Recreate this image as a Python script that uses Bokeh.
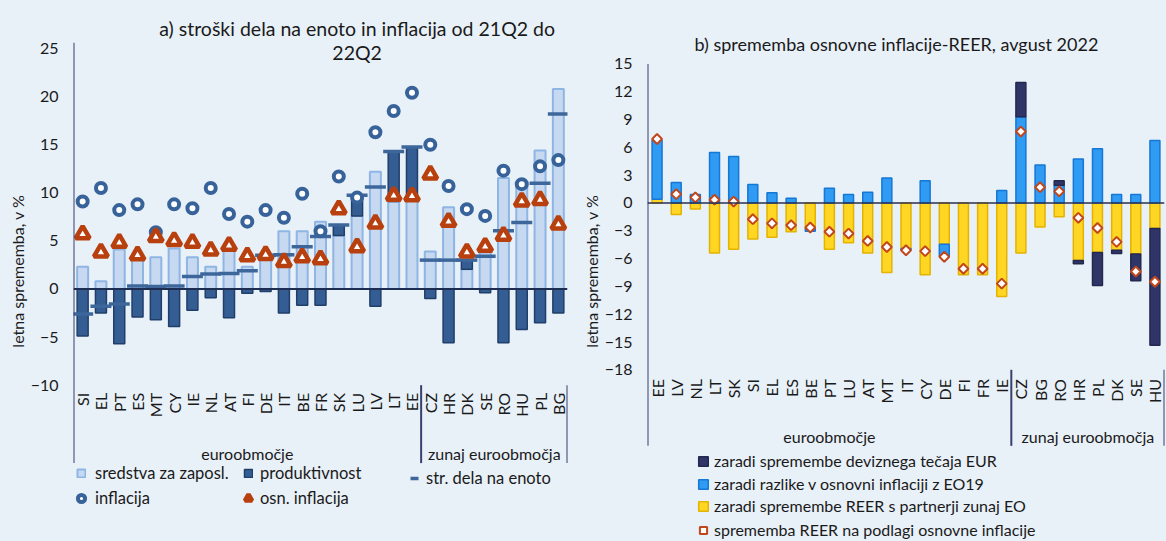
import math
from bokeh.plotting import figure
from bokeh.models import FactorRange, Range1d, FixedTicker, Span, Legend, LegendItem
from bokeh.layouts import row
from bokeh.embed import file_html
from bokeh.resources import INLINE
from bokeh.core.properties import value

FONT = "Lato"
BG = "#E8F0F8"
TXT = "#1a1a1a"

# ---------------- data: panel a ----------------
title_a = ["a) stroški dela na enoto in inflacija od 21Q2 do", "22Q2"]
countries_a = ["SI", "EL", "PT", "ES", "MT", "CY", "IE", "NL", "AT", "FI", "DE", "IT", "BE", "FR",
               "SK", "LU", "LV", "LT", "EE", "CZ", "HR", "DK", "SE", "RO", "HU", "PL", "BG"]
n_euro_a = 19
groups = ["euroobmočje", "zunaj euroobmočja"]
comp_a = [2.3, 0.8, 4.1, 3.2, 3.3, 4.2, 3.3, 2.3, 4.6, 2.3, 3.65, 6.0, 6.0, 7.0,
          5.55, 7.6, 12.2, 9.1, 9.5, 3.9, 8.5, 2.05, 3.8, 11.55, 11.0, 14.4, 20.8]
prod_a = [-4.9, -2.5, -5.7, -2.9, -3.2, -3.9, -2.2, -0.9, -3.0, -0.45, -0.25, -2.5, -1.7, -1.7,
          1.1, 2.15, -1.8, 5.2, 5.25, -1.0, -5.6, 0.95, -0.4, -5.6, -4.2, -3.5, -2.5]
ulc_a = [-2.6, -1.8, -1.55, 0.3, 0.25, 0.3, 1.3, 1.55, 1.6, 1.9, 3.5, 3.55, 4.4, 5.45,
         6.65, 9.75, 10.6, 14.3, 14.75, 3.0, 3.0, 3.0, 3.4, 6.05, 6.9, 11.0, 18.2]
infl_a = [9.1, 10.5, 8.2, 8.8, 5.9, 8.8, 8.4, 10.5, 7.8, 7.0, 8.2, 7.4, 9.9, 6.0,
          11.7, 9.5, 16.3, 18.5, 20.4, 15.0, 10.7, 8.3, 7.6, 12.3, 10.9, 12.75, 13.4]
core_a = [5.7, 3.8, 4.8, 3.5, 5.4, 5.0, 4.8, 4.0, 4.5, 3.4, 3.55, 2.8, 3.3, 3.1,
          8.3, 4.35, 6.8, 9.7, 9.65, 11.9, 7.0, 3.8, 4.4, 5.55, 9.1, 9.25, 6.7]
yticks_a = [-10, -5, 0, 5, 10, 15, 20, 25]
labels_a = ["sredstva za zaposl.", "produktivnost", "str. dela na enoto", "inflacija", "osn. inflacija"]

# ---------------- data: panel b ----------------
title_b = "b) sprememba osnovne inflacije-REER, avgust 2022"
countries_b = ["EE", "LV", "NL", "LT", "SK", "SI", "EL", "ES", "BE", "PT", "LU", "AT", "MT", "IT",
               "CY", "DE", "FI", "FR", "IE", "CZ", "BG", "RO", "HR", "PL", "DK", "SE", "HU"]
n_euro_b = 19
fx_b = [0, 0, 0, 0, 0, 0, 0, 0, 0, 0, 0, 0, 0, 0, 0, 0, 0, 0, 0,
        3.7, 0, 0.5, -0.35, -3.55, -0.35, -2.9, -12.6]
diff_b = [6.4, 2.2, 0.9, 5.45, 5.0, 2.0, 1.1, 0.5, -0.25, 1.6, 0.9, 1.15, 2.7, -0.2,
          2.4, -1.3, 0, 0, 1.35, 9.3, 4.1, 1.9, 4.75, 5.85, 0.9, 0.9, 6.75]
out_b = [0.4, -1.25, -0.65, -5.4, -5.0, -3.9, -3.7, -3.1, -2.8, -5.0, -4.3, -5.4, -7.5, -4.9,
         -7.75, -4.45, -7.75, -7.75, -10.1, -5.4, -2.6, -1.5, -6.2, -5.35, -5.1, -5.5, -2.75]
reer_b = [6.9, 0.95, 0.6, 0.35, 0.15, -1.75, -2.2, -2.4, -2.65, -3.1, -3.3, -4.1, -4.75, -5.1,
          -5.2, -5.8, -7.1, -7.1, -8.7, 7.7, 1.7, 1.25, -1.6, -2.7, -4.2, -7.4, -8.5]
yticks_b = [-18, -15, -12, -9, -6, -3, 0, 3, 6, 9, 12, 15]
labels_b = ["zaradi spremembe deviznega tečaja EUR", "zaradi razlike v osnovni inflaciji z EO19",
            "zaradi spremembe REER s partnerji zunaj EO", "sprememba REER na podlagi osnovne inflacije"]
ylabel = "letna sprememba, v %"

H = 541


def style_yaxis(p, ticks, bounds, label_standoff, axis_standoff):
    ax = p.yaxis[0]
    ax.ticker = FixedTicker(ticks=ticks)
    ax.bounds = bounds
    ax.axis_line_color = None
    ax.major_tick_line_color = None
    ax.minor_tick_line_color = None
    ax.major_tick_out = 0
    ax.major_tick_in = 0
    ax.major_label_text_font = FONT
    ax.major_label_text_font_size = "16px"
    ax.major_label_text_color = TXT
    ax.major_label_standoff = label_standoff
    ax.axis_label = ylabel
    ax.axis_label_text_font = FONT
    ax.axis_label_text_font_size = "16px"
    ax.axis_label_text_font_style = "normal"
    ax.axis_label_text_color = TXT
    ax.axis_label_standoff = axis_standoff


def add_legend(p, renderer, label, cx, cy, glyph, standoff, frame_left, frame_bottom, size):
    lg = Legend(items=[LegendItem(label=label, renderers=[renderer])],
                location=(cx - glyph / 2 - frame_left, frame_bottom - (cy + glyph / 2)),
                glyph_width=glyph, glyph_height=glyph, label_height=glyph, label_standoff=standoff,
                padding=0, margin=0, spacing=0, border_line_color=None, background_fill_alpha=0,
                label_text_font=FONT, label_text_font_size=size, label_text_color=TXT)
    p.add_layout(lg)


# ================= panel a =================
FLa = 73
pa = figure(width=575, height=H,
            x_range=FactorRange(factors=countries_a, factor_padding=0),
            y_range=Range1d(-26.25, 29.99),
            output_backend="svg", toolbar_location=None, x_axis_location=None,
            min_border_left=FLa, min_border_right=8, min_border_top=0, min_border_bottom=0,
            background_fill_color=BG, border_fill_color=BG, outline_line_color=None)
pa.grid.visible = False
style_yaxis(pa, yticks_a, (-10, 25), 15, 1)

dark_bottom = [c if v >= 0 else v for c, v in zip(comp_a, prod_a)]
dark_top = [c + v if v >= 0 else 0 for c, v in zip(comp_a, prod_a)]
r_light = pa.vbar(x=countries_a, bottom=0, top=comp_a, width=0.6,
                  fill_color="#C6D9F0", line_color="#8FB5E4", line_width=2)
r_dark = pa.vbar(x=countries_a, bottom=dark_bottom, top=dark_top, width=0.6,
                 fill_color="#345E93", line_color="#203E6A", line_width=1.5)
pa.add_layout(Span(location=0, dimension="width", line_color="#1E2E52", line_width=2))
r_ulc = pa.scatter(x=countries_a, y=ulc_a, marker="dash", size=21, line_width=3.5,
                   line_color="#3D679B")
r_infl = pa.scatter(x=countries_a, y=infl_a, marker="circle", size=10, line_width=4,
                    line_color="#37639A", fill_color="white")
r_core = pa.scatter(x=countries_a, y=core_a, marker="triangle", size=14, line_width=4.5,
                    line_color="#B8400E", fill_color="white")

na = len(countries_a)
pa.segment(x0=[0, n_euro_a, na], x1=[0, n_euro_a, na], y0=[25.6, -10, -10],
           y1=[-18.1, -18.1, -18.1], line_color="#3B3F6E", line_width=2)
pa.text(x=countries_a, y=[-10.8] * na, text=countries_a, angle=math.pi / 2,
        text_align="right", text_baseline="middle", text_font=value(FONT),
        text_font_size="16px", text_color=TXT)
pa.text(x=[n_euro_a / 2, (n_euro_a + na) / 2], y=[-17.1, -17.1], text=groups,
        text_align="center", text_baseline="middle", text_font=value(FONT),
        text_font_size="16px", text_color=TXT)
pa.text(x=[15.5, 15.5], y=[27.08, 24.58], text=title_a, text_align="center",
        text_baseline="middle", text_font=value(FONT), text_font_size="19.5px", text_color=TXT)

LSa = "16.5px"
add_legend(pa, r_light, labels_a[0], 81, 478, 10, 9, FLa, H, LSa)
add_legend(pa, r_dark, labels_a[1], 248, 478, 10, 7, FLa, H, LSa)
add_legend(pa, r_ulc, labels_a[2], 414, 478, 20, 2, FLa, H, LSa)
add_legend(pa, r_infl, labels_a[3], 81, 499, 18, 5, FLa, H, LSa)
add_legend(pa, r_core, labels_a[4], 248, 499, 18, 3, FLa, H, LSa)

# ================= panel b =================
FLb = 647
WA = 575
pb = figure(width=1166 - WA, height=H,
            x_range=FactorRange(factors=countries_b, factor_padding=0),
            y_range=Range1d(-36.52, 21.84),
            output_backend="svg", toolbar_location=None, x_axis_location=None,
            min_border_left=FLb - WA, min_border_right=2, min_border_top=0, min_border_bottom=0,
            background_fill_color=BG, border_fill_color=BG, outline_line_color=None)
pb.grid.visible = False
style_yaxis(pb, yticks_b, (-18, 15), 15, 1)

series_b = [("yellow", out_b, "#FFD624", "#E3B300"),
            ("blue", diff_b, "#2F9BF3", "#1577D6"),
            ("navy", fx_b, "#2F3567", "#23284F")]
pos = [0.0] * len(countries_b)
neg = [0.0] * len(countries_b)
rend_b = {}
for name, vals, fc, lc in series_b:
    xs, bots, tops = [], [], []
    for i, v in enumerate(vals):
        if v > 0:
            xs.append(countries_b[i]); bots.append(pos[i]); tops.append(pos[i] + v); pos[i] += v
        elif v < 0:
            xs.append(countries_b[i]); tops.append(neg[i]); bots.append(neg[i] + v); neg[i] += v
    rend_b[name] = pb.vbar(x=xs, bottom=bots, top=tops, width=0.52,
                           fill_color=fc, line_color=lc, line_width=1.5)
pb.add_layout(Span(location=0, dimension="width", line_color="#2B3050", line_width=1.5))
r_reer = pb.scatter(x=countries_b, y=reer_b, marker="square", angle=math.pi / 4, size=7,
                    line_width=2, line_color="#C2461C", fill_color="white")

nb = len(countries_b)
pb.segment(x0=[0, n_euro_b, nb], x1=[0, n_euro_b, nb], y0=[15, -18, -18],
           y1=[-26.2, -26.2, -26.2], line_color="#3B3F6E", line_width=2)
pb.text(x=countries_b, y=[-19.0] * nb, text=countries_b, angle=math.pi / 2,
        text_align="right", text_baseline="middle", text_font=value(FONT),
        text_font_size="16px", text_color=TXT)
pb.text(x=[n_euro_b / 2, (n_euro_b + nb) / 2], y=[-25.2, -25.2], text=groups,
        text_align="center", text_baseline="middle", text_font=value(FONT),
        text_font_size="16px", text_color=TXT)
pb.text(x=[13.0], y=[17.2], text=[title_b], text_align="center",
        text_baseline="middle", text_font=value(FONT), text_font_size="18px", text_color=TXT)

LSb = "16px"
add_legend(pb, rend_b["navy"], labels_b[0], 703, 464, 12, 5, FLb, H, LSb)
add_legend(pb, rend_b["blue"], labels_b[1], 703, 487, 12, 5, FLb, H, LSb)
add_legend(pb, rend_b["yellow"], labels_b[2], 703, 509, 12, 5, FLb, H, LSb)
add_legend(pb, r_reer, labels_b[3], 703, 530, 18, 2, FLb, H, LSb)

layout = row(pa, pb, spacing=0)
html = file_html(layout, INLINE)
html = html.replace("</head>", "<style>body{background:%s;}</style></head>" % BG, 1)
open("out.html", "w").write(html)
